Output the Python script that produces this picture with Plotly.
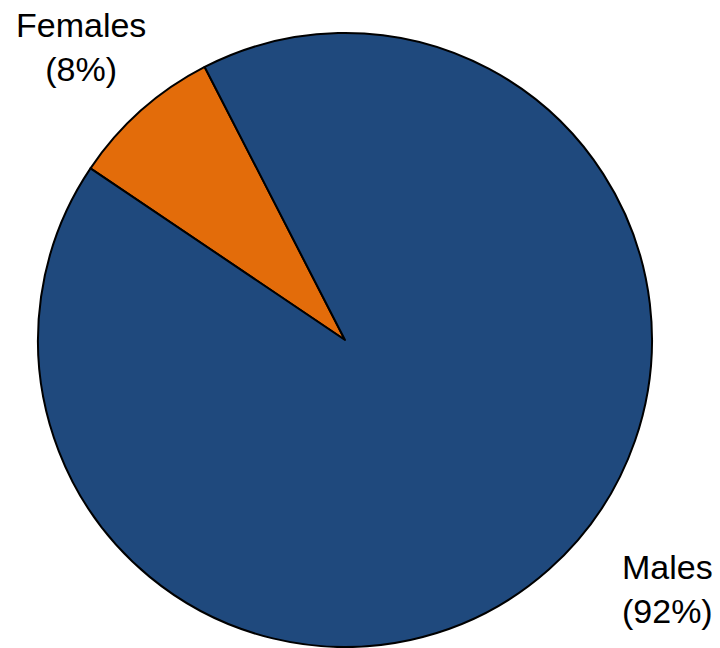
import plotly.graph_objects as go

# Share of each group
labels = ["Females", "Males"]
values = [8, 92]
colors = ["#E36C0A", "#1F497D"]

W, H = 720, 648

fig = go.Figure(
    go.Pie(
        labels=labels,
        values=values,
        sort=False,
        direction="clockwise",
        rotation=-56,
        marker=dict(colors=colors, line=dict(color="black", width=2)),
        textinfo="none",
        hoverinfo="label+percent",
        domain=dict(x=[38 / W, 652 / W], y=[1 - 647 / H, 1 - 33 / H]),
        showlegend=False,
    )
)

total = sum(values)
label_pos = {"Females": (81, 47), "Males": (667, 589)}
for lab, val in zip(labels, values):
    px, py = label_pos[lab]
    fig.add_annotation(
        x=px / W, y=1 - py / H, xref="paper", yref="paper",
        text=f"{lab}<br>({round(100 * val / total)}%)",
        showarrow=False, xanchor="center", yanchor="middle",
        font=dict(family="Liberation Sans, Arial, sans-serif", size=34, color="black"),
    )

fig.update_layout(
    width=W, height=H,
    margin=dict(l=0, r=0, t=0, b=0),
    paper_bgcolor="white", plot_bgcolor="white",
)

fig.write_html("out.html")
